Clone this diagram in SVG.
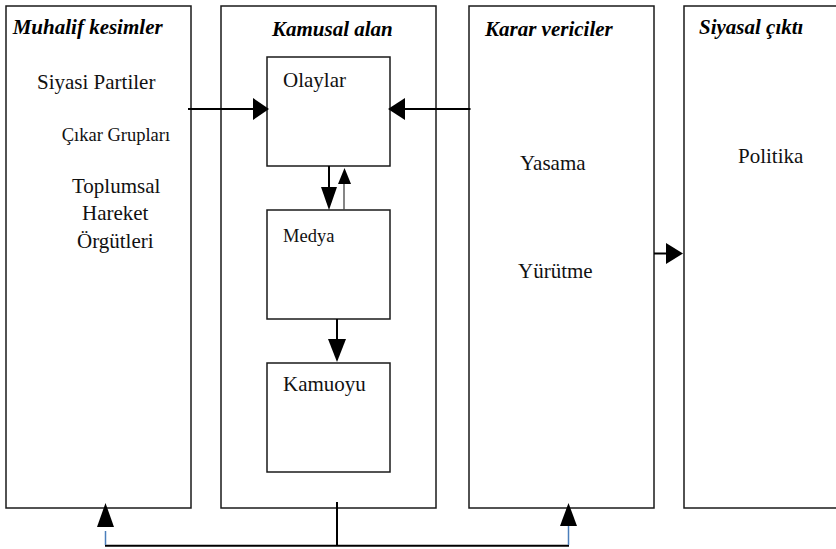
<svg xmlns="http://www.w3.org/2000/svg" width="836" height="549" viewBox="0 0 836 549">
<style>
.box{fill:#fff;stroke:#1a1a1a;stroke-width:1.5}
text{font-family:'Liberation Serif','DejaVu Serif',serif}
.hd{font-weight:bold;font-style:italic;font-size:21px;fill:#000}
.tx{font-size:21px;fill:#111}
.sm{font-size:18.5px}
.ln{stroke:#000;stroke-width:2;fill:none}
.thin{stroke:#444;stroke-width:1.3;fill:none}
.blue{stroke:#4a7ebb;stroke-width:1.5;fill:none}
.ah{fill:#000;stroke:none}
</style>
<rect width="836" height="549" fill="#fff"/>
<g id="muhalif">
<rect class="box" x="6" y="6" width="185" height="502"/>
<text class="hd" x="12.7" y="34">Muhalif kesimler</text>
<text class="tx" x="37" y="89">Siyasi Partiler</text>
<text class="tx sm" x="61.7" y="140.7">Çıkar Grupları</text>
<text class="tx" x="72" y="193">Toplumsal</text>
<text class="tx" x="82" y="220">Hareket</text>
<text class="tx" x="77" y="248">Örgütleri</text>
</g>
<g id="kamusal">
<rect class="box" x="221" y="6" width="215" height="502"/>
<text class="hd" x="272" y="36">Kamusal alan</text>
</g>
<g id="olaylar">
<rect class="box" x="267" y="57" width="123" height="109"/>
<text class="tx" x="283" y="87">Olaylar</text>
</g>
<g id="medya">
<rect class="box" x="267" y="210" width="123" height="109"/>
<text class="tx sm" x="283" y="242">Medya</text>
</g>
<g id="kamuoyu">
<rect class="box" x="267" y="363" width="123" height="109"/>
<text class="tx" x="283" y="391">Kamuoyu</text>
</g>
<g id="karar">
<rect class="box" x="469" y="6" width="185" height="502"/>
<text class="hd" x="485" y="36">Karar vericiler</text>
<text class="tx" x="520" y="170">Yasama</text>
<text class="tx" x="518" y="278">Yürütme</text>
</g>
<g id="siyasal">
<rect class="box" x="684" y="6" width="160" height="502"/>
<text class="hd" x="699" y="34">Siyasal çıktı</text>
<text class="tx" x="738" y="163">Politika</text>
</g>
<g id="connectors">
<line class="ln" x1="188" y1="109" x2="255" y2="109"/>
<polygon class="ah" points="253,98 269,109 253,120"/>
<line class="ln" x1="470.5" y1="109" x2="403" y2="109"/>
<polygon class="ah" points="405,98 388,109 405,120"/>
<line class="ln" x1="329" y1="166" x2="329" y2="190"/>
<polygon class="ah" points="321,187 337,187 329,210"/>
<line class="thin" x1="344" y1="210" x2="344" y2="182"/>
<polygon class="ah" points="338,184 351,184 344.5,168"/>
<line class="ln" x1="337" y1="319" x2="337" y2="341"/>
<polygon class="ah" points="328,339 346,339 337,362"/>
<line class="ln" x1="654" y1="253.5" x2="668" y2="253.5"/>
<polygon class="ah" points="666,243 683,253.5 666,264"/>
<line class="ln" x1="337" y1="502" x2="337" y2="546"/>
<line class="ln" x1="105" y1="545.7" x2="569" y2="545.7"/>
<line class="blue" x1="105.5" y1="531" x2="105.5" y2="545"/>
<polygon class="ah" points="97,527 114,527 105.5,503"/>
<line class="blue" x1="568.5" y1="525" x2="568.5" y2="545"/>
<polygon class="ah" points="560,526 577,526 568.5,503"/>
</g>
</svg>
